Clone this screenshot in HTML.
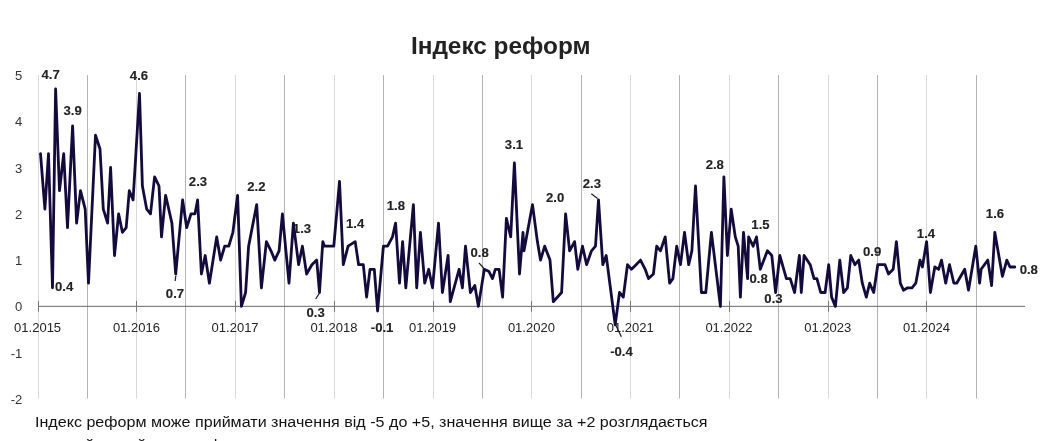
<!DOCTYPE html><html><head><meta charset="utf-8"><style>html,body{margin:0;padding:0;background:#fff;overflow:hidden}svg{display:block;will-change:transform;opacity:.999}text{font-family:"Liberation Sans",sans-serif}</style></head><body>
<svg width="1051" height="441" viewBox="0 0 1051 441">
<rect width="1051" height="441" fill="#fff"/>
<path d="M38.50 75V398.5M136.50 75V398.5M235.50 75V398.5M334.50 75V398.5M433.50 75V398.5M531.50 75V398.5M630.50 75V398.5M729.50 75V398.5M828.50 75V398.5M926.50 75V398.5" stroke="#d8d8d8" stroke-width="1" fill="none"/>
<path d="M87.50 75V398.5M185.50 75V398.5M284.50 75V398.5M383.50 75V398.5M482.50 75V398.5M581.50 75V398.5M679.50 75V398.5M778.50 75V398.5M877.50 75V398.5M976.50 75V398.5" stroke="#b4b4b4" stroke-width="1" fill="none"/>
<path d="M38.40 306.35H1025" stroke="#6a6a6a" stroke-width="1" fill="none"/>
<path d="M38.50 300.85v11M136.50 300.85v11M235.50 300.85v11M334.50 300.85v11M433.50 300.85v11M531.50 300.85v11M630.50 300.85v11M729.50 300.85v11M828.50 300.85v11M926.50 300.85v11" stroke="#777" stroke-width="1" fill="none"/>
<text x="22.3" y="80.0" font-size="13" fill="#333" text-anchor="end">5</text>
<text x="22.3" y="126.3" font-size="13" fill="#333" text-anchor="end">4</text>
<text x="22.3" y="172.5" font-size="13" fill="#333" text-anchor="end">3</text>
<text x="22.3" y="218.8" font-size="13" fill="#333" text-anchor="end">2</text>
<text x="22.3" y="265.1" font-size="13" fill="#333" text-anchor="end">1</text>
<text x="22.3" y="311.4" font-size="13" fill="#333" text-anchor="end">0</text>
<text x="22.3" y="357.6" font-size="13" fill="#333" text-anchor="end">-1</text>
<text x="22.3" y="403.9" font-size="13" fill="#333" text-anchor="end">-2</text>
<text x="37.6" y="332" font-size="13" fill="#222" text-anchor="middle">01.2015</text>
<text x="136.4" y="332" font-size="13" fill="#222" text-anchor="middle">01.2016</text>
<text x="235.1" y="332" font-size="13" fill="#222" text-anchor="middle">01.2017</text>
<text x="333.9" y="332" font-size="13" fill="#222" text-anchor="middle">01.2018</text>
<text x="432.6" y="332" font-size="13" fill="#222" text-anchor="middle">01.2019</text>
<text x="531.4" y="332" font-size="13" fill="#222" text-anchor="middle">01.2020</text>
<text x="630.2" y="332" font-size="13" fill="#222" text-anchor="middle">01.2021</text>
<text x="728.9" y="332" font-size="13" fill="#222" text-anchor="middle">01.2022</text>
<text x="827.7" y="332" font-size="13" fill="#222" text-anchor="middle">01.2023</text>
<text x="926.4" y="332" font-size="13" fill="#222" text-anchor="middle">01.2024</text>
<text transform="translate(500.7 53.7) scale(1.003 1)" font-size="24.3" font-weight="bold" fill="#222" text-anchor="middle">Індекс реформ</text>
<text transform="translate(35 426.6) scale(1.095 1)" font-size="14.7" fill="#111">Індекс реформ може приймати значення від -5 до +5, значення вище за +2 розглядається</text>
<text transform="translate(38.5 450) scale(1.095 1)" font-size="14.7" fill="#111">як прийнятний темп реформ</text>
<text transform="translate(50.7 78.8) scale(1.07 1)" font-size="12.3" font-weight="bold" fill="#222" stroke="#222" stroke-width="0.12" text-anchor="middle">4.7</text>
<text transform="translate(72.7 115) scale(1.07 1)" font-size="12.3" font-weight="bold" fill="#222" stroke="#222" stroke-width="0.12" text-anchor="middle">3.9</text>
<text transform="translate(139 80.2) scale(1.07 1)" font-size="12.3" font-weight="bold" fill="#222" stroke="#222" stroke-width="0.12" text-anchor="middle">4.6</text>
<text transform="translate(64.2 290.6) scale(1.07 1)" font-size="12.3" font-weight="bold" fill="#222" stroke="#222" stroke-width="0.12" text-anchor="middle">0.4</text>
<text transform="translate(175 297.9) scale(1.07 1)" font-size="12.3" font-weight="bold" fill="#222" stroke="#222" stroke-width="0.12" text-anchor="middle">0.7</text>
<path d="M175.7 276L175.2 281" stroke="#222" stroke-width="1.3" fill="none"/>
<text transform="translate(198 185.6) scale(1.07 1)" font-size="12.3" font-weight="bold" fill="#222" stroke="#222" stroke-width="0.12" text-anchor="middle">2.3</text>
<text transform="translate(256.4 191.2) scale(1.07 1)" font-size="12.3" font-weight="bold" fill="#222" stroke="#222" stroke-width="0.12" text-anchor="middle">2.2</text>
<text transform="translate(302 232.5) scale(1.07 1)" font-size="12.3" font-weight="bold" fill="#222" stroke="#222" stroke-width="0.12" text-anchor="middle">1.3</text>
<text transform="translate(315.7 317) scale(1.07 1)" font-size="12.3" font-weight="bold" fill="#222" stroke="#222" stroke-width="0.12" text-anchor="middle">0.3</text>
<path d="M319.5 293L315.7 299" stroke="#222" stroke-width="1.3" fill="none"/>
<text transform="translate(355.2 227.6) scale(1.07 1)" font-size="12.3" font-weight="bold" fill="#222" stroke="#222" stroke-width="0.12" text-anchor="middle">1.4</text>
<text transform="translate(382.1 331.8) scale(1.07 1)" font-size="12.3" font-weight="bold" fill="#222" stroke="#222" stroke-width="0.12" text-anchor="middle">-0.1</text>
<text transform="translate(395.9 209.5) scale(1.07 1)" font-size="12.3" font-weight="bold" fill="#222" stroke="#222" stroke-width="0.12" text-anchor="middle">1.8</text>
<text transform="translate(479.7 256.8) scale(1.07 1)" font-size="12.3" font-weight="bold" fill="#222" stroke="#222" stroke-width="0.12" text-anchor="middle">0.8</text>
<path d="M479 262.8L484.3 269" stroke="#222" stroke-width="1.3" fill="none"/>
<text transform="translate(514 149) scale(1.07 1)" font-size="12.3" font-weight="bold" fill="#222" stroke="#222" stroke-width="0.12" text-anchor="middle">3.1</text>
<text transform="translate(555.2 201.8) scale(1.07 1)" font-size="12.3" font-weight="bold" fill="#222" stroke="#222" stroke-width="0.12" text-anchor="middle">2.0</text>
<text transform="translate(591.9 187.5) scale(1.07 1)" font-size="12.3" font-weight="bold" fill="#222" stroke="#222" stroke-width="0.12" text-anchor="middle">2.3</text>
<path d="M591.3 193.8L597.6 198.6" stroke="#222" stroke-width="1.3" fill="none"/>
<text transform="translate(621.5 355.7) scale(1.07 1)" font-size="12.3" font-weight="bold" fill="#222" stroke="#222" stroke-width="0.12" text-anchor="middle">-0.4</text>
<path d="M615.3 324.3L621.4 336.7" stroke="#222" stroke-width="1.3" fill="none"/>
<text transform="translate(714.8 169) scale(1.07 1)" font-size="12.3" font-weight="bold" fill="#222" stroke="#222" stroke-width="0.12" text-anchor="middle">2.8</text>
<text transform="translate(760.5 228.7) scale(1.07 1)" font-size="12.3" font-weight="bold" fill="#222" stroke="#222" stroke-width="0.12" text-anchor="middle">1.5</text>
<text transform="translate(758.7 282.7) scale(1.07 1)" font-size="12.3" font-weight="bold" fill="#222" stroke="#222" stroke-width="0.12" text-anchor="middle">0.8</text>
<text transform="translate(773.5 302.6) scale(1.07 1)" font-size="12.3" font-weight="bold" fill="#222" stroke="#222" stroke-width="0.12" text-anchor="middle">0.3</text>
<text transform="translate(872.2 255.5) scale(1.07 1)" font-size="12.3" font-weight="bold" fill="#222" stroke="#222" stroke-width="0.12" text-anchor="middle">0.9</text>
<text transform="translate(926 238) scale(1.07 1)" font-size="12.3" font-weight="bold" fill="#222" stroke="#222" stroke-width="0.12" text-anchor="middle">1.4</text>
<text transform="translate(995 217.7) scale(1.07 1)" font-size="12.3" font-weight="bold" fill="#222" stroke="#222" stroke-width="0.12" text-anchor="middle">1.6</text>
<text transform="translate(1028.8 274.0) scale(1.07 1)" font-size="12.3" font-weight="bold" fill="#222" stroke="#222" stroke-width="0.12" text-anchor="middle">0.8</text>
<path d="M40.5 153.7L44.9 209.2L48.5 153.7L52.5 287.8L55.6 88.9L59.5 190.7L63.7 153.7L67.5 227.7L72.6 125.9L76.6 223.1L80.5 190.7L85.2 209.2L88.5 283.2L95.5 135.2L100.0 149.0L103.3 209.2L107.6 223.1L110.6 167.5L114.5 255.5L118.6 213.8L122.4 232.3L126.2 227.7L129.3 190.7L133.1 199.9L139.5 93.5L142.4 186.0L146.7 209.2L150.5 213.8L154.6 176.8L159.0 186.0L161.5 236.9L165.6 195.3L171.9 223.1L175.7 274.0L182.6 199.9L186.7 227.7L191.0 213.8L195.0 213.8L197.6 199.9L201.4 274.0L205.2 255.5L209.4 283.2L216.7 236.9L220.6 260.1L224.7 246.2L228.8 246.2L232.9 232.3L237.6 195.3L241.4 306.4L245.6 292.5L248.6 246.2L256.7 204.6L261.4 287.8L266.4 241.6L271.0 250.8L274.8 260.1L279.1 250.8L282.4 213.8L289.0 283.2L293.4 223.1L298.6 264.7L302.4 246.2L306.6 274.0L311.9 264.7L316.7 260.1L319.5 292.5L322.8 241.6L324.5 246.2L333.8 246.2L339.5 181.4L343.3 264.7L348.1 246.2L355.2 241.6L358.6 264.7L363.3 264.7L366.6 297.1L370.0 269.3L374.3 269.3L377.6 311.0L383.4 246.2L387.6 246.2L392.5 236.9L395.6 223.1L399.5 283.2L402.6 241.6L405.8 287.8L413.4 204.6L416.7 287.8L420.4 232.3L424.7 283.2L428.7 269.3L432.5 287.8L438.5 223.1L442.4 292.5L448.1 255.5L450.3 301.7L459.1 269.3L462.4 287.8L465.5 246.2L470.4 292.5L474.8 285.5L478.4 306.4L484.3 269.3L489.0 271.6L492.5 278.6L495.3 269.3L499.1 269.3L502.6 297.1L506.4 218.4L510.7 236.9L514.4 162.9L519.5 274.0L523.0 232.3L524.0 250.8L532.5 204.6L537.4 241.6L540.5 260.1L544.7 246.2L550.0 260.1L553.3 301.7L561.6 292.5L565.6 213.8L569.6 250.8L574.6 241.6L577.8 269.3L582.5 246.2L586.6 264.7L591.5 250.8L595.5 246.2L598.5 199.9L602.8 264.7L606.2 255.5L615.2 324.9L619.5 292.5L623.3 297.1L627.5 264.7L631.5 269.3L636.1 264.7L640.5 260.1L645.2 269.3L648.5 278.6L653.4 274.0L656.7 246.2L660.5 250.8L665.2 236.9L669.6 283.2L672.9 278.6L676.7 246.2L680.5 264.7L684.5 232.3L688.7 264.7L691.9 250.8L695.5 186.0L701.4 292.5L705.8 292.5L711.4 232.3L720.4 306.4L723.9 176.8L727.4 255.5L731.2 209.2L735.3 236.9L738.2 246.2L740.4 297.1L743.5 232.3L747.6 278.6L748.6 236.9L753.1 246.2L756.5 236.9L760.3 269.3L767.4 250.8L771.8 255.5L775.6 292.5L779.8 255.5L786.4 278.6L790.2 278.6L794.6 292.5L799.4 255.5L801.3 292.5L804.1 255.5L810.2 264.7L814.0 278.6L816.9 278.6L820.7 292.5L825.1 292.5L828.7 264.7L831.6 297.1L835.4 306.4L839.8 260.1L843.6 292.5L847.4 287.8L850.8 255.5L854.9 264.7L858.7 260.1L862.3 283.2L866.3 297.1L869.7 283.2L873.7 292.5L877.8 264.7L885.0 264.7L888.5 274.0L893.2 269.3L896.4 241.6L900.3 283.2L903.5 290.2L907.6 287.8L912.0 287.8L915.8 283.2L920.0 260.1L922.4 267.0L926.6 241.6L930.4 292.5L934.8 267.0L938.6 269.3L941.5 260.1L945.7 283.2L949.5 264.7L953.9 283.2L956.7 283.2L964.7 269.3L968.5 290.2L975.8 246.2L979.6 283.2L981.1 269.3L987.8 260.1L991.6 285.5L994.8 232.3L1002.4 276.3L1006.8 260.1L1010.0 267.0L1014.8 267.0" stroke="#140b3c" stroke-width="2.8" fill="none" stroke-linejoin="round" stroke-linecap="round"/>
</svg></body></html>
